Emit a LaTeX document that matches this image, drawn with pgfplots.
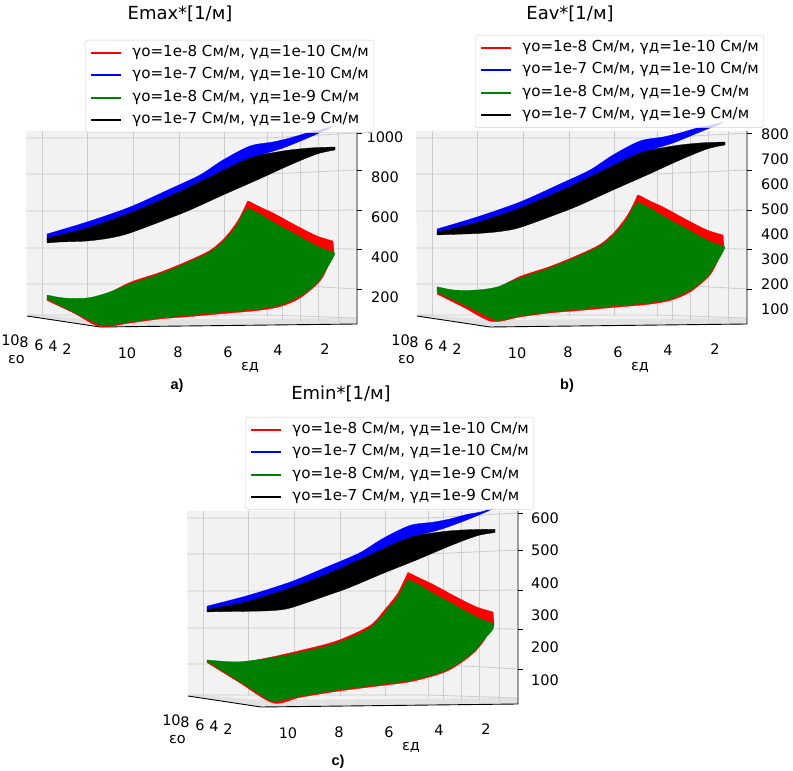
\documentclass[border=0pt]{standalone}
\usepackage{fontspec}
\setmainfont{DejaVu Sans}
\newfontfamily\lsans{Liberation Sans}
\usepackage{pgfplots}
\usepgfplotslibrary{fillbetween}
\pgfplotsset{compat=1.18}
\definecolor{pane}{RGB}{242,242,242}
\definecolor{floorc}{RGB}{226,226,226}
\definecolor{gridc}{RGB}{204,204,204}
\definecolor{mplgreen}{RGB}{0,128,0}
\newcommand{\tf}{\fontsize{14.5}{17}\selectfont}
\newcommand{\lf}{\fontsize{15.1}{18}\selectfont}
\newcommand{\ttl}{\fontsize{18}{21}\selectfont}
\newcommand{\sublf}{\lsans\bfseries\fontsize{14.5}{16}\selectfont}

\pgfplotsset{
 frameax/.style={anchor=north west, scale only axis, width=400pt, height=220pt,
   xmin=0, xmax=400, ymin=120, ymax=340, y dir=reverse, hide axis, clip=false},
 dataax/.style={anchor=north west, scale only axis, width=400pt, height=220pt,
   x dir=reverse, hide axis, clip=false, legend cell align=left,
   legend image code/.code={\draw[##1, line width=2.2pt] (0pt,0pt) -- (30pt,0pt);},
   legend style={draw=black!18, rounded corners=3pt, fill=white, fill opacity=0.8,
     text opacity=1, font=\lf, inner xsep=5pt, inner ysep=5pt, row sep=7.5pt,
     nodes={inner sep=0pt, text height=11pt, text depth=4pt}, anchor=north west,
     /tikz/every odd column/.append style={column sep=10pt}}},
 gl/.style={color=gridc, line width=0.8pt},
 ax/.style={color=black, line width=0.9pt},
 edge/.style={draw=none, smooth, tension=0.5, forget plot},
}

\newcommand{\drawframe}[3]{%
 \addplot[draw=none, fill=pane] coordinates {(26,131) (357,131) (357,324) (100,327) (27,316)} -- cycle;
 \addplot[draw=none, fill=floorc] coordinates {(27,316) (100,327) (357,324) (357,318) (100,320) (30,314)} -- cycle;
 \addplot[gl] coordinates {(42,131) (42,316)};
 \addplot[gl] coordinates {(87,131) (87,316)};
 \addplot[gl] coordinates {(133,131) (133,316)};
 \addplot[gl] coordinates {(179,131) (179,316)};
 \addplot[gl] coordinates {(224,131) (224,316)};
 \addplot[gl] coordinates {(267,131) (267,317)};
 \addplot[gl] coordinates {(282,131) (282,320)};
 \addplot[gl] coordinates {(300,131) (300,321)};
 \addplot[gl] coordinates {(318,131) (318,321)};
 \addplot[gl] coordinates {(338,131) (338,322)};
 \addplot[gl] coordinates {(26,138) (267,138) (357,133)};
 \addplot[gl] coordinates {(26,174) (267,174) (357,170)};
 \addplot[gl] coordinates {(26,211) (267,211) (357,210)};
 \addplot[gl] coordinates {(26,248) (267,248) (357,249)};
 \addplot[gl] coordinates {(26,284) (267,284) (357,289)};
 \addplot[gl] coordinates {(30,315) (267,315) (357,318)};
 \addplot[ax] coordinates {(27,316) (100,327) (357,324) (357,131)};
 \addplot[ax] coordinates {(357,133) (362,133)};
 \addplot[ax] coordinates {(357,170) (362,170)};
 \addplot[ax] coordinates {(357,210) (362,210)};
 \addplot[ax] coordinates {(357,249) (362,249)};
 \addplot[ax] coordinates {(357,289) (362,289)};
 \node[font=\ttl] at (axis cs:180,14) {#1};
 \node[font=\tf] at (axis cs:127,353) {10};
 \node[font=\tf] at (axis cs:178,352) {8};
 \node[font=\tf] at (axis cs:228,352) {6};
 \node[font=\tf] at (axis cs:278,350) {4};
 \node[font=\tf] at (axis cs:325,349) {2};
 \node[font=\tf] at (axis cs:250,367) {εд};
 \node[font=\tf] at (axis cs:10.5,340) {10};
 \node[font=\tf] at (axis cs:24,342) {8};
 \node[font=\tf] at (axis cs:39,345) {6};
 \node[font=\tf] at (axis cs:53,346) {4};
 \node[font=\tf] at (axis cs:67,349) {2};
 \node[font=\tf] at (axis cs:16.5,360) {εо};
 \node[font=\sublf] at (axis cs:177,#3) {#2};
}

\newcommand{\legendentries}{%
 \addlegendimage{red}\addlegendentry{γо=1e-8 См/м, γд=1e-10 См/м}
 \addlegendimage{blue}\addlegendentry{γо=1e-7 См/м, γд=1e-10 См/м}
 \addlegendimage{mplgreen}\addlegendentry{γо=1e-8 См/м, γд=1e-9 См/м}
 \addlegendimage{black}\addlegendentry{γо=1e-7 См/м, γд=1e-9 См/м}
}
% fill between two named edges in one colour
\newcommand{\surf}[3]{\addplot[fill=#1, draw=#1, line width=0.3pt, forget plot] fill between[of=#2 and #3, on layer=main];}

\begin{document}
\begin{tikzpicture}
\fill[white] (0pt,0pt) rectangle (793pt,771pt);

% ---------------- panel a: Emax ----------------
\begin{axis}[frameax, at={(0pt,651pt)}]
\drawframe{Emax*[1/м]}{a)}{386}
\end{axis}
\begin{axis}[dataax, at={(0pt,651pt)}, xmin=-0.92, xmax=15.08, ymin=-15, ymax=1085,
  legend style={at={(axis description cs:0.2125,1.3636)}}]
% blue: γо=1e-7, γд=1e-10
\addplot[edge, name path=bt] coordinates {(13.2,515) (11.6,575) (9.88,650) (8.28,740) (7.08,810) (6.16,885) (5.08,955) (4.16,975) (3.48,995) (2.8,1020) (2.28,1035) (1.76,1055)};
\addplot[edge, name path=bb] coordinates {(13.2,480) (11.6,530) (9.88,605) (8.28,690) (6.68,785) (5.08,890) (3.76,945) (2.68,1000) (1.88,1045)};
\surf{blue}{bt}{bb}
% black: γо=1e-7, γд=1e-9
\addplot[edge, name path=kt] coordinates {(13.2,495) (11.6,545) (9.88,620) (8.28,705) (6.68,800) (5.08,895) (3.76,930) (2.68,945) (1.68,950)};
\addplot[edge, name path=kb] coordinates {(13.2,470) (12.68,475) (11.6,480) (10.68,495) (9.88,520) (8.28,595) (7.48,635) (6.16,710) (4.8,785) (3.48,860) (2.4,915) (1.68,935)};
\surf{black}{kt}{kb}
% red: γо=1e-8, γд=1e-10
\addplot[edge, name path=rt] coordinates {(13.2,195) (12.08,186) (11.08,200) (9.88,273) (8.68,323) (7.6,378) (6.68,433) (6.08,497) (5.6,575) (5.32,640) (5.22,668) (5.16,680) (5.08,676) (4.68,650) (4.16,620) (3.2,555) (2.4,505) (1.76,480)};
\addplot[edge, name path=rb] coordinates {(13.2,183) (12.1,118) (11.08,52) (9.88,70) (8.68,90) (7.48,102) (6.16,117) (4.8,132) (3.88,152) (3.08,195) (2.28,280) (1.88,375) (1.72,425)};
\surf{red}{rt}{rb}
% green: γо=1e-8, γд=1e-9
\addplot[edge, name path=gt] coordinates {(13.2,210) (12.52,195) (11.6,195) (10.8,220) (9.88,265) (8.68,315) (7.6,370) (6.68,425) (6.08,485) (5.6,560) (5.36,615) (5.22,638) (5.16,645) (5.08,640) (4.68,615) (4.16,575) (3.2,510) (2.4,455) (1.68,420)};
\addplot[edge, name path=gb] coordinates {(13.2,190) (12.2,128) (11.2,66) (11.0,59) (10.5,63) (9.88,75) (8.68,95) (7.48,110) (6.16,125) (4.8,140) (3.88,160) (3.08,205) (2.4,270) (2.0,345) (1.76,395) (1.68,420)};
\surf{mplgreen}{gt}{gb}
\legendentries
\node[font=\tf] at (axis cs:-0.32,1000) {1000};
\node[font=\tf] at (axis cs:-0.32,800) {800};
\node[font=\tf] at (axis cs:-0.32,600) {600};
\node[font=\tf] at (axis cs:-0.32,400) {400};
\node[font=\tf] at (axis cs:-0.32,200) {200};
\end{axis}

% ---------------- panel b: Eav ----------------
\begin{axis}[frameax, at={(390pt,651pt)}]
\drawframe{Eav*[1/м]}{b)}{386}
\end{axis}
\begin{axis}[dataax, at={(390pt,651pt)}, xmin=-0.92, xmax=15.08, ymin=-24, ymax=856,
  legend style={at={(axis description cs:0.2125,1.3864)}}]
\addplot[edge, name path=bt] coordinates {(13.2,420) (11.6,468) (9.88,528) (8.28,600) (7.08,656) (6.16,716) (5.08,772) (4.16,788) (3.48,804) (2.8,824) (2.28,834) (1.76,846)};
\addplot[edge, name path=bb] coordinates {(13.2,402) (11.6,436) (9.88,492) (8.28,560) (6.68,636) (5.08,720) (3.76,764) (2.68,808) (1.88,840)};
\surf{blue}{bt}{bb}
\addplot[edge, name path=kt] coordinates {(13.2,408) (11.6,446) (9.88,504) (8.28,572) (6.68,648) (5.08,724) (3.76,752) (2.68,764) (1.68,768)};
\addplot[edge, name path=kb] coordinates {(13.2,396) (12.68,398) (11.6,402) (10.68,410) (9.88,426) (8.28,484) (7.48,516) (6.16,576) (4.8,636) (3.48,696) (2.4,740) (1.68,756)};
\surf{black}{kt}{kb}
\addplot[edge, name path=rt] coordinates {(13.2,165) (12.08,161) (11.08,172) (9.88,230) (8.68,270) (7.6,314) (6.68,358) (6.08,410) (5.6,472) (5.32,524) (5.22,546) (5.16,556) (5.08,553) (4.68,532) (4.16,508) (3.2,456) (2.4,416) (1.76,396)};
\addplot[edge, name path=rb] coordinates {(13.2,160) (12.1,105) (11.0,50) (9.88,68) (8.68,84) (7.48,94) (6.16,106) (4.8,118) (3.88,134) (3.08,168) (2.28,236) (1.88,312) (1.72,352)};
\surf{red}{rt}{rb}
\addplot[edge, name path=gt] coordinates {(13.2,189) (12.52,176) (11.6,176) (10.8,188) (9.88,224) (8.68,264) (7.6,308) (6.68,352) (6.08,400) (5.6,460) (5.36,504) (5.22,522) (5.16,528) (5.08,524) (4.68,504) (4.16,472) (3.2,420) (2.4,376) (1.68,348)};
\addplot[edge, name path=gb] coordinates {(13.2,168) (12.0,111) (10.9,57) (10.6,56) (9.88,72) (8.68,88) (7.48,100) (6.16,112) (4.8,124) (3.88,140) (3.08,176) (2.4,228) (2.0,288) (1.76,328) (1.68,348)};
\surf{mplgreen}{gt}{gb}
\legendentries
\node[font=\tf] at (axis cs:-0.32,800) {800};
\node[font=\tf] at (axis cs:-0.32,700) {700};
\node[font=\tf] at (axis cs:-0.32,600) {600};
\node[font=\tf] at (axis cs:-0.32,500) {500};
\node[font=\tf] at (axis cs:-0.32,400) {400};
\node[font=\tf] at (axis cs:-0.32,300) {300};
\node[font=\tf] at (axis cs:-0.32,200) {200};
\node[font=\tf] at (axis cs:-0.32,100) {100};
\end{axis}

% ---------------- panel c: Emin ----------------
\begin{axis}[frameax, at={(161pt,271pt)}]
\drawframe{Emin*[1/м]}{c)}{382}
\end{axis}
\begin{axis}[dataax, at={(161pt,271pt)}, xmin=-0.96, xmax=15.04, ymin=-23.4, ymax=655.5,
  legend style={at={(axis description cs:0.21,1.3773)}}]
\addplot[edge, name path=bt] coordinates {(13.2,328) (11.6,360) (9.88,402) (8.28,453) (7.08,493) (6.16,537) (5.08,577) (4.16,587) (3.48,597) (2.8,611) (2.28,618) (1.76,630)};
\addplot[edge, name path=bb] coordinates {(13.2,312) (11.6,333) (9.88,374) (8.28,422) (6.68,476) (5.08,537) (3.76,567) (2.68,598) (1.88,624)};
\surf{blue}{bt}{bb}
\addplot[edge, name path=kt] coordinates {(13.2,318) (11.6,342) (9.88,384) (8.28,431) (6.68,486) (5.08,540) (3.76,558) (2.68,564) (1.68,565)};
\addplot[edge, name path=kb] coordinates {(13.2,310) (12.68,311) (11.6,312) (10.68,314) (9.88,322) (8.28,364) (7.48,386) (6.16,429) (4.8,471) (3.48,514) (2.4,545) (1.68,555)};
\surf{black}{kt}{kb}
\addplot[edge, name path=rt] coordinates {(13.2,158) (12.0,152) (10.68,170) (9.36,193) (8.0,221) (6.68,268) (6.08,318) (5.6,364) (5.36,400) (5.22,422) (5.16,432) (5.08,429) (4.68,414) (4.16,395) (3.2,355) (2.4,325) (1.76,310)};
\addplot[edge, name path=rb] coordinates {(13.2,154) (11.9,92) (10.55,29) (9.5,46) (8.0,65) (6.5,80) (5.35,91) (4.8,99) (4.0,116) (3.5,131) (2.95,158) (2.5,186) (2.15,218) (1.9,250) (1.72,276)};
\surf{red}{rt}{rb}
\addplot[edge, name path=gt] coordinates {(13.2,162) (12.0,156) (10.68,168) (9.36,187) (8.0,214) (6.68,260) (6.08,308) (5.6,352) (5.36,385) (5.22,402) (5.16,410) (5.08,407) (4.68,392) (4.16,368) (3.2,328) (2.4,294) (1.72,274)};
\addplot[edge, name path=gb] coordinates {(13.2,158) (11.9,96) (10.7,38) (10.4,35) (9.5,50) (8.0,69) (6.5,84) (5.35,95) (4.8,103) (4.0,120) (3.5,135) (2.95,162) (2.5,190) (2.15,222) (2.0,235) (1.76,257) (1.72,274)};
\surf{mplgreen}{gt}{gb}
\legendentries
\node[font=\tf] at (axis cs:-0.32,600) {600};
\node[font=\tf] at (axis cs:-0.32,500) {500};
\node[font=\tf] at (axis cs:-0.32,400) {400};
\node[font=\tf] at (axis cs:-0.32,300) {300};
\node[font=\tf] at (axis cs:-0.32,200) {200};
\node[font=\tf] at (axis cs:-0.32,100) {100};
\end{axis}
\pgfresetboundingbox
\path (0pt,0pt) rectangle (793pt,771pt);
\end{tikzpicture}
\end{document}
